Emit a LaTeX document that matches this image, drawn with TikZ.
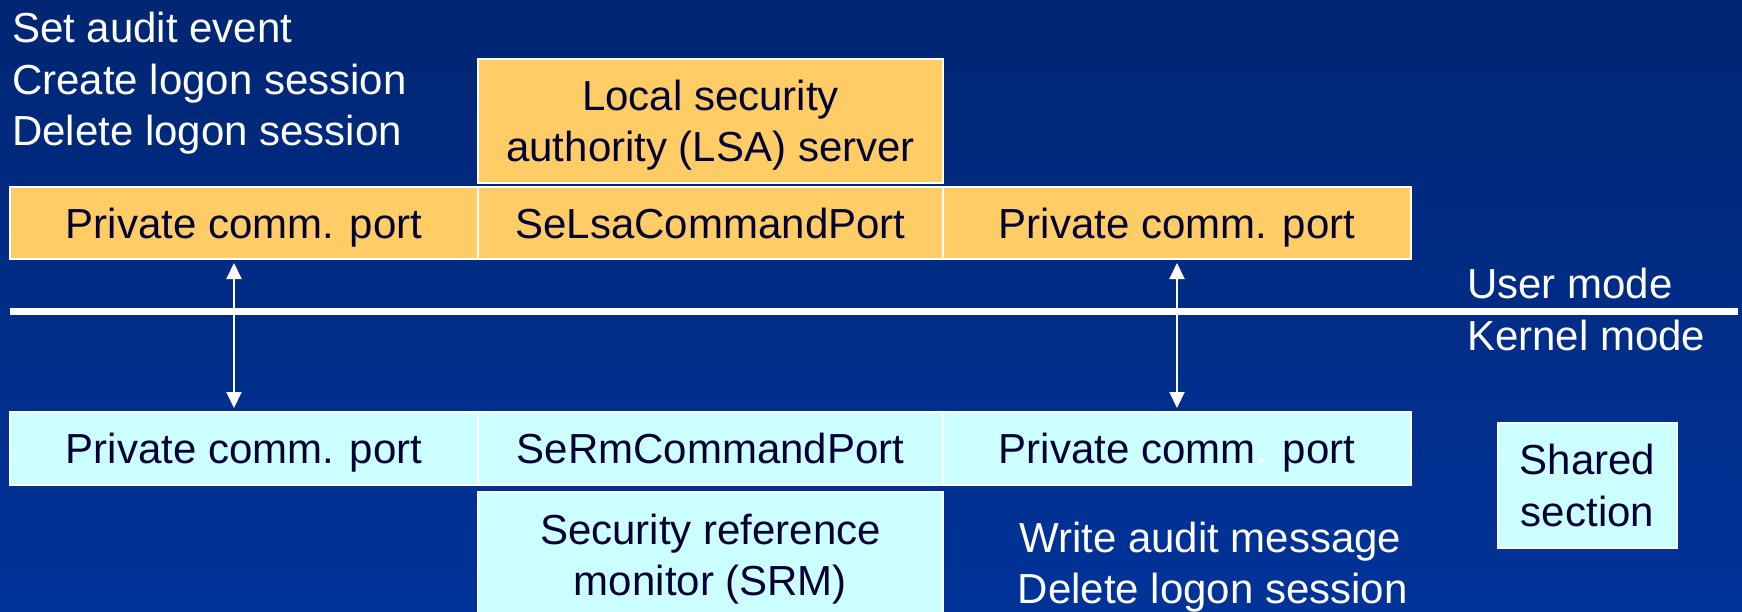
\documentclass[tikz,border=0pt]{standalone}
\usepackage{fontspec}
\setmainfont{Liberation Sans}
\usetikzlibrary{arrows.meta}
\definecolor{bgtop}{RGB}{0,38,115}
\definecolor{bgbot}{RGB}{0,51,153}
\definecolor{userfill}{RGB}{255,204,102}
\definecolor{kernfill}{RGB}{204,255,255}
\definecolor{ink}{RGB}{0,0,51}
\begin{document}
\begin{tikzpicture}[x=1pt,y=-1pt,
  cell/.style={draw=white, line width=2pt, text=ink,
    font=\fontsize{42}{51.5}\selectfont, align=center, text depth=0pt,
    inner sep=0pt, outer sep=0pt, anchor=north west},
  usercell/.style={cell, fill=userfill},
  kerncell/.style={cell, fill=kernfill},
  caption/.style={text=white, font=\fontsize{42}{51.5}\selectfont,
    inner sep=0pt, anchor=base west},
  link/.style={white, line width=2pt,
    {Triangle[length=16pt,width=15pt]}-{Triangle[length=16pt,width=15pt]},
    shorten <=4pt, shorten >=4pt}
]
\useasboundingbox (0,0) rectangle (1742,611);
\begin{scope}
\clip (0,0) rectangle (1742,611);
% background
\fill[top color=bgtop, bottom color=bgbot] (0,0) rectangle (1742,611);

% user-mode side
\node[usercell, minimum width=465, minimum height=124] (lsa) at (478,59)
  {Local security\\authority (LSA) server};
\node[usercell, minimum width=468, minimum height=72] (ul) at (10,187) {Private comm. port};
\node[usercell, minimum width=465, minimum height=72] (um) at (478,187) {SeLsaCommandPort};
\node[usercell, minimum width=468, minimum height=72] (ur) at (943,187) {Private comm. port};

% kernel-mode side
\node[kerncell, minimum width=468, minimum height=73] (kl) at (10,412) {Private comm. port};
\node[kerncell, minimum width=465, minimum height=73] (km) at (478,412) {SeRmCommandPort};
\node[kerncell, minimum width=468, minimum height=73] (kr) at (943,412)
  {Private comm{\color{white}.} port};
\node[kerncell, minimum width=465, minimum height=126] (srm) at (478,492)
  {Security reference\\monitor (SRM)};
\node[kerncell, minimum width=179, minimum height=125] (shared) at (1498,423)
  {Shared\\section};

% mode boundary
\coordinate (sepL) at (10,311.7);
\coordinate (sepR) at (1738,311.7);
\draw[white, line width=7pt] (sepL) -- (sepR);
\node[caption] (user) at (1467,298.3) {User mode};
\node[caption] (kern) at (1467,350) {Kernel mode};

% operations
\node[caption] (op1) at (12,42.7) {Set audit event};
\node[caption] (op2) at (12,94.3) {Create logon session};
\node[caption] (op3) at (12,145.7) {Delete logon session};
\node[caption] (op4) at (1019,552) {Write audit message};
\node[caption] (op5) at (1017.5,603) {Delete logon session};

% port connections
\draw[link] ([xshift=-10pt]ul.south) -- ([xshift=-10pt]kl.north);
\draw[link] (ur.south) -- (kr.north);
\end{scope}
\end{tikzpicture}
\end{document}
